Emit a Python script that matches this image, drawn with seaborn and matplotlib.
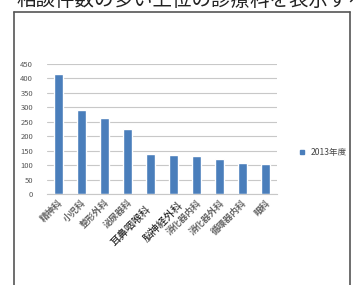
import matplotlib
matplotlib.use("Agg")
import matplotlib.pyplot as plt
import matplotlib.transforms as mtransforms
import seaborn as sns
import pandas as pd
import numpy as np
from matplotlib.lines import Line2D

categories = ["精神科", "小児科", "整形外科", "泌尿器科", "耳鼻咽喉科",
              "脳神経外科", "消化器内科", "消化器外科", "循環器内科", "眼科"]
values = [415, 292, 262, 225, 138, 134, 130, 120, 107, 103]
series_name = "2013年度"
yticks = [0, 50, 100, 150, 200, 250, 300, 350, 400, 450]
title_text = "相談件数の多い上位の診療科を表示する"

sns.set_theme(style="white")
plt.rcParams['font.family'] = ['Noto Sans CJK JP', 'DejaVu Sans']

W, H = 353, 285
fig = plt.figure(figsize=(W / 100, H / 100), dpi=100)
fig.patch.set_facecolor("white")

def fx(px):
    return px / W

def fy(py):
    return 1 - py / H

ax = fig.add_axes([fx(47), fy(194), fx(277) - fx(47), fy(64) - fy(194)])
df = pd.DataFrame({"cat": categories, "val": values, "series": series_name})
sns.barplot(data=df, x="cat", y="val", color="#4a7ebb", width=0.4,
            saturation=1, ax=ax, legend=False)
ax.set_ylim(0, 450)
ax.set_xlim(-0.5, len(categories) - 0.5)
ax.set_yticks(yticks)
ax.set_yticklabels([str(v) for v in yticks], fontsize=5.5, color="#555555")
ax.yaxis.grid(True, color="#c8c8c8", linewidth=0.8)
ax.set_axisbelow(True)
for s in ["top", "right", "left"]:
    ax.spines[s].set_visible(False)
ax.spines["bottom"].set_color("#c8c8c8")
ax.spines["bottom"].set_linewidth(0.8)
ax.tick_params(axis="y", length=0, pad=10)
ax.set_xlabel("")
ax.set_ylabel("")
ax.set_xticks(np.arange(len(categories)))
ax.set_xticks(np.arange(len(categories) + 1) - 0.5, minor=True)
ax.tick_params(axis="x", which="major", length=0, pad=3)
ax.tick_params(axis="x", which="minor", length=2, color="#c8c8c8", width=0.8)
labels = ax.set_xticklabels(categories, rotation=45, ha="right",
                            rotation_mode="anchor")
for i, lab in enumerate(labels):
    if categories[i] in ("耳鼻咽喉科", "脳神経外科"):
        lab.set_fontsize(7.5)
        lab.set_color("#111111")
    else:
        lab.set_fontsize(6.5)
        lab.set_color("#666666")
        lab.set_fontweight("bold")
for i, lab in enumerate(labels):
    if categories[i] == "耳鼻咽喉科":
        lab.set_transform(lab.get_transform() + mtransforms.ScaledTranslation(-0.05, -0.06, fig.dpi_scale_trans))
    if categories[i] == "脳神経外科":
        lab.set_transform(lab.get_transform() + mtransforms.ScaledTranslation(0.04, -0.02, fig.dpi_scale_trans))

# legend
handle = Line2D([], [], marker="s", linestyle="none", color="#4a7ebb", markersize=3)
fig.legend([handle], [series_name], loc="center left",
           bbox_to_anchor=(fx(289), fy(153)), frameon=False, fontsize=6.2,
           handletextpad=0.05, borderpad=0, labelcolor="#444444")

# frame
fig.add_artist(Line2D([fx(14), fx(14)], [fy(12), 0], transform=fig.transFigure, color="#555555", linewidth=1.2))
fig.add_artist(Line2D([fx(14), fx(350)], [fy(12), fy(12)], transform=fig.transFigure, color="#555555", linewidth=1.2))
fig.add_artist(Line2D([fx(350), fx(350)], [fy(12), 0], transform=fig.transFigure, color="#555555", linewidth=1.2))

# title (cut off at top edge, as in the reference)
fig.text(fx(16), fy(6), title_text, fontsize=14, color="#222222",
         ha="left", va="baseline")

fig.savefig("out.png", dpi=100)
